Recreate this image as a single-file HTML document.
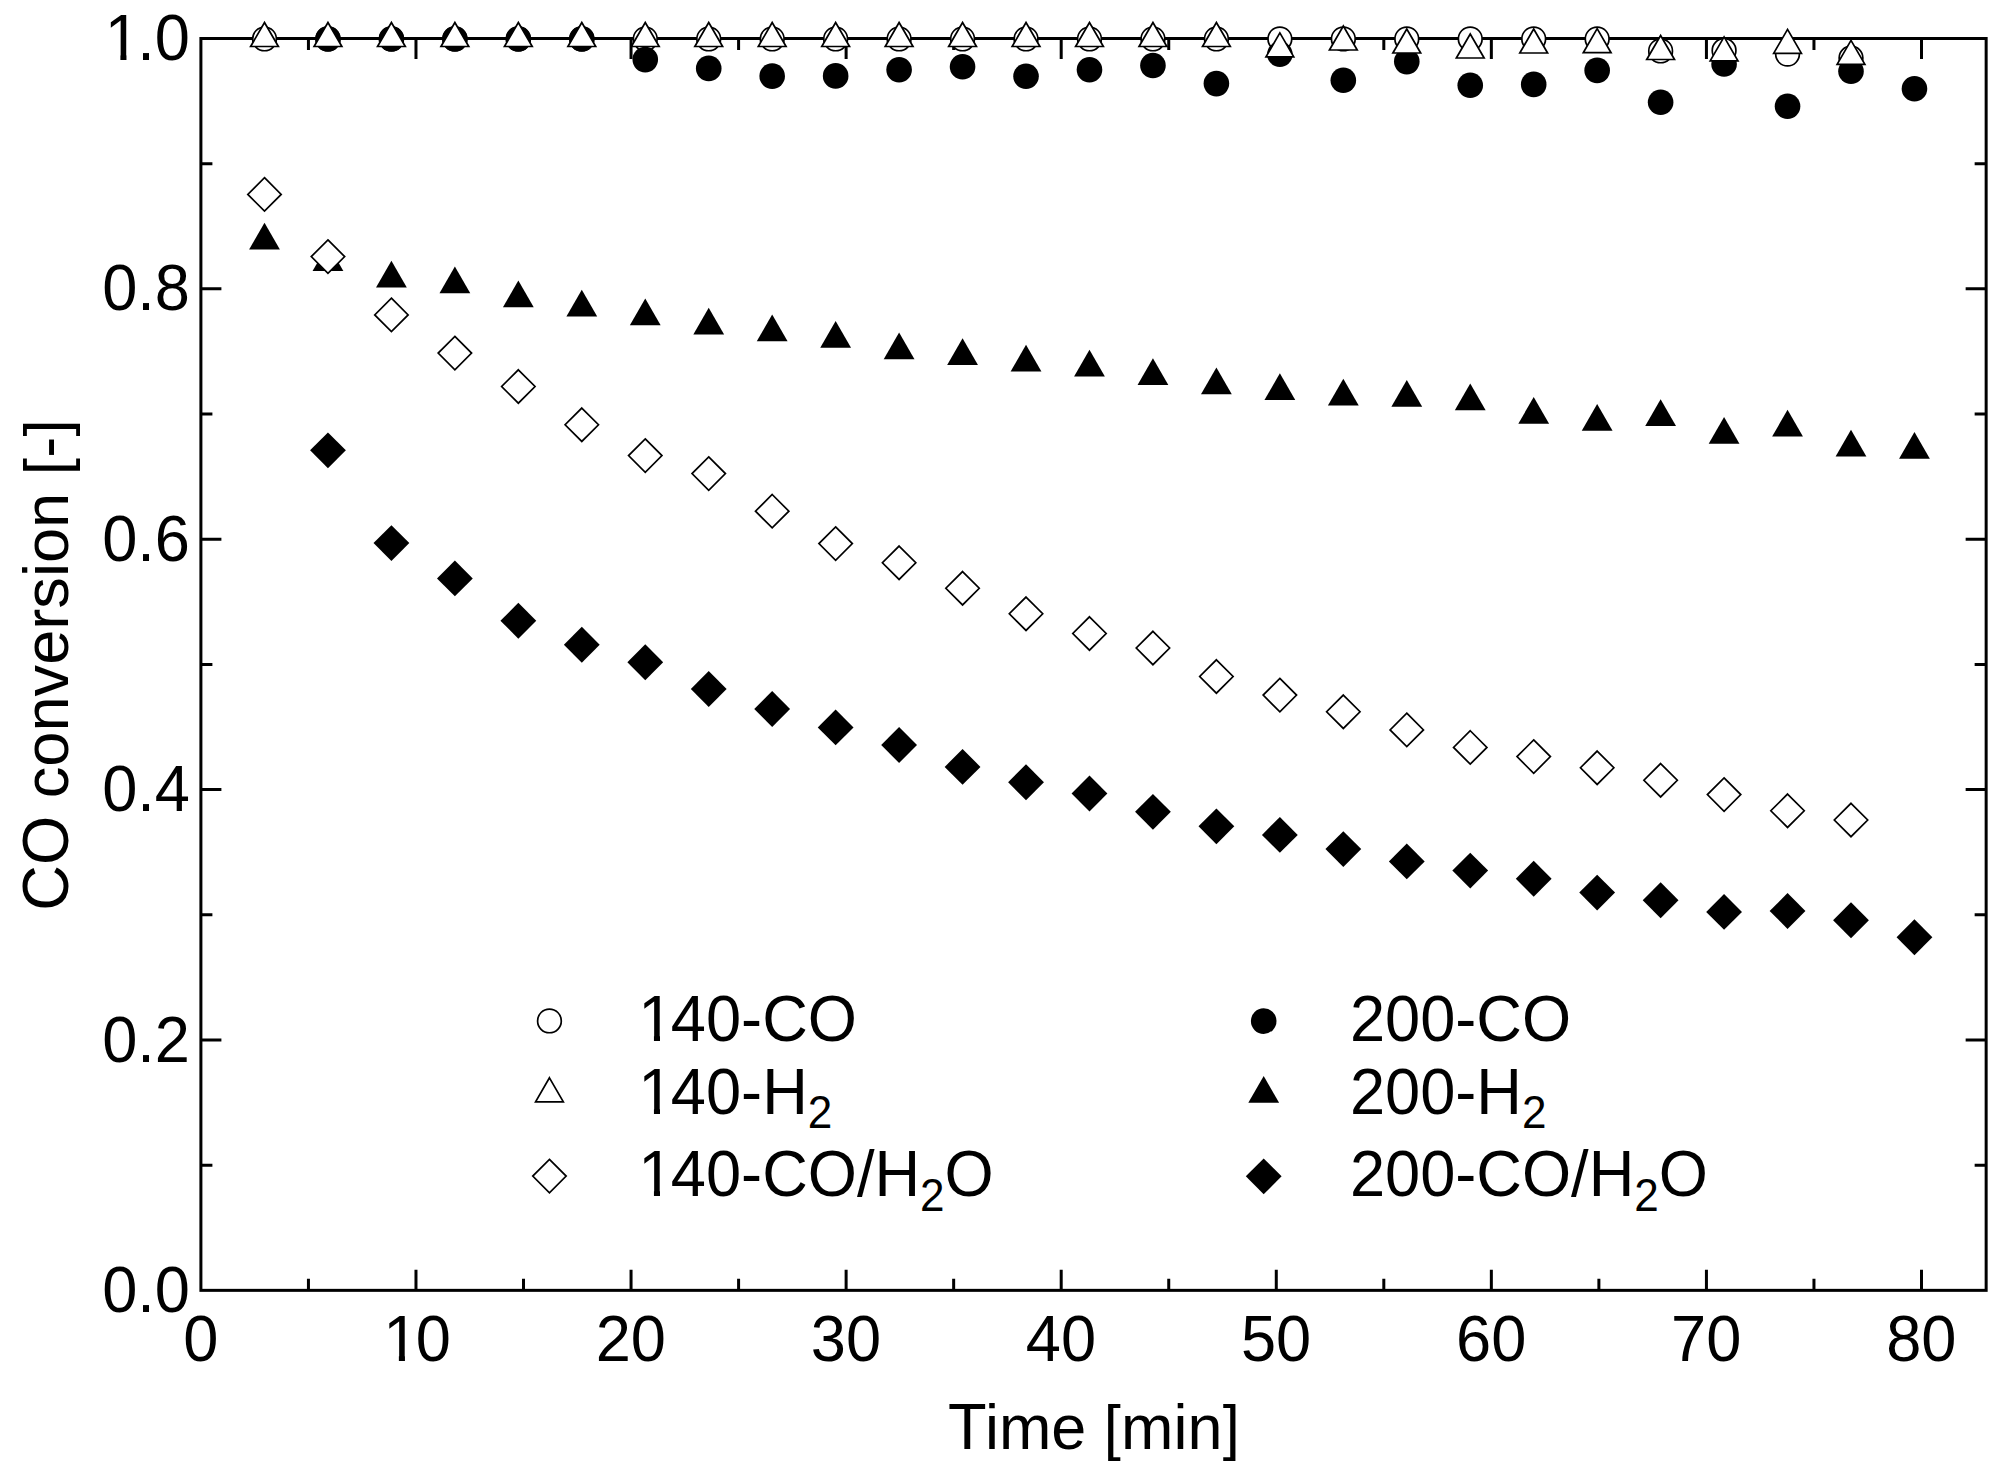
<!DOCTYPE html>
<html lang="en">
<head>
<meta charset="utf-8">
<title>CO conversion vs. time</title>
<style>
html,body{margin:0;padding:0;background:#fff;}
body{width:2000px;height:1468px;overflow:hidden;}
svg{display:block;}
</style>
</head>
<body>
<svg width="2000" height="1468" viewBox="0 0 2000 1468">
<defs>
<circle id="co" r="11.85" fill="#fff" stroke="#000" stroke-width="1.7"/>
<circle id="cf" r="12.8" fill="#000"/>
<path id="to" d="M0 -16.04L13.89 8.02L-13.89 8.02Z" fill="#fff" stroke="#000" stroke-width="1.7" stroke-miterlimit="10"/>
<path id="tf" d="M0 -17.77L15.4 8.89L-15.4 8.89Z" fill="#000"/>
<path id="do" d="M0 -16.7L16.7 0L0 16.7L-16.7 0Z" fill="#fff" stroke="#000" stroke-width="1.7" stroke-miterlimit="10"/>
<path id="df" d="M0 -17.9L17.9 0L0 17.9L-17.9 0Z" fill="#000"/>
<clipPath id="c1" clipPathUnits="userSpaceOnUse"><rect x="-3" y="-70.05" width="40.15" height="65.04"/><rect x="18.78" y="-65.05" width="6.25" height="67.05"/><rect x="37.15" y="-70.05" width="2000" height="140.10"/></clipPath>
</defs>
<rect width="2000" height="1468" fill="#fff"/>
<rect x="200.9" y="38.5" width="1785.25" height="1251.85" fill="none" stroke="#000" stroke-width="3.0"/>
<path d="M308.44 1290.35V1278.85M308.44 38.5V50M415.98 1290.35V1269.85M415.98 38.5V59M523.51 1290.35V1278.85M523.51 38.5V50M631.05 1290.35V1269.85M631.05 38.5V59M738.59 1290.35V1278.85M738.59 38.5V50M846.12 1290.35V1269.85M846.12 38.5V59M953.66 1290.35V1278.85M953.66 38.5V50M1061.2 1290.35V1269.85M1061.2 38.5V59M1168.74 1290.35V1278.85M1168.74 38.5V50M1276.28 1290.35V1269.85M1276.28 38.5V59M1383.81 1290.35V1278.85M1383.81 38.5V50M1491.35 1290.35V1269.85M1491.35 38.5V59M1598.89 1290.35V1278.85M1598.89 38.5V50M1706.43 1290.35V1269.85M1706.43 38.5V59M1813.96 1290.35V1278.85M1813.96 38.5V50M1921.5 1290.35V1269.85M1921.5 38.5V59M200.9 1165.16H212.4M1986.15 1165.16H1974.65M200.9 1039.98H221.4M1986.15 1039.98H1965.65M200.9 914.79H212.4M1986.15 914.79H1974.65M200.9 789.61H221.4M1986.15 789.61H1965.65M200.9 664.42H212.4M1986.15 664.42H1974.65M200.9 539.24H221.4M1986.15 539.24H1965.65M200.9 414.06H212.4M1986.15 414.06H1974.65M200.9 288.87H221.4M1986.15 288.87H1965.65M200.9 163.68H212.4M1986.15 163.68H1974.65" stroke="#000" stroke-width="3.0" fill="none"/>
<g font-family="'Liberation Sans', sans-serif" fill="#000">
<text transform="translate(102.15 1311.95) scale(0.9715 1)" font-size="65.05">0.0</text>
<text transform="translate(102.15 1061.58) scale(0.9715 1)" font-size="65.05">0.2</text>
<text transform="translate(102.15 811.21) scale(0.9715 1)" font-size="65.05">0.4</text>
<text transform="translate(102.15 560.84) scale(0.9715 1)" font-size="65.05">0.6</text>
<text transform="translate(102.15 310.47) scale(0.9715 1)" font-size="65.05">0.8</text>
<text transform="translate(102.15 60.1) scale(0.9715 1)" font-size="65.05" dx="2.68 -2.68" clip-path="url(#c1)">1.0</text>
<text transform="translate(183.13 1360.6) scale(0.9715 1)" font-size="65.05">0</text>
<text transform="translate(380.63 1360.6) scale(0.9715 1)" font-size="65.05" dx="2.68 -2.68" clip-path="url(#c1)">10</text>
<text transform="translate(595.7 1360.6) scale(0.9715 1)" font-size="65.05">20</text>
<text transform="translate(810.78 1360.6) scale(0.9715 1)" font-size="65.05">30</text>
<text transform="translate(1025.85 1360.6) scale(0.9715 1)" font-size="65.05">40</text>
<text transform="translate(1240.93 1360.6) scale(0.9715 1)" font-size="65.05">50</text>
<text transform="translate(1456 1360.6) scale(0.9715 1)" font-size="65.05">60</text>
<text transform="translate(1671.08 1360.6) scale(0.9715 1)" font-size="65.05">70</text>
<text transform="translate(1886.15 1360.6) scale(0.9715 1)" font-size="65.05">80</text>
<text transform="translate(947.9 1448.6) scale(1.0099 1)" font-size="62.3"><tspan font-size="65.05" textLength="38.22" lengthAdjust="spacingAndGlyphs">T</tspan><tspan dx="-1.49">ime </tspan><tspan font-size="60.8" dy="-0.75">[</tspan><tspan dy="0.75" dx="0.2">min</tspan><tspan font-size="60.8" dy="-0.75" dx="0.2">]</tspan></text>
<text transform="translate(68.2 910.7) rotate(-90) scale(1.0144 1)" font-size="62.3"><tspan font-size="65.05" textLength="93.45" lengthAdjust="spacingAndGlyphs">CO</tspan> conversion <tspan font-size="60.8" dy="-0.75">[</tspan><tspan dy="0.75" dx="0.2">-</tspan><tspan font-size="60.8" dy="-0.75" dx="0.2">]</tspan></text>
<text transform="translate(635.7 1040.7) scale(0.9715 1)" font-size="65.05" dx="2.68 -2.68" clip-path="url(#c1)">140-CO</text>
<text transform="translate(635.7 1113.8) scale(0.9715 1)" font-size="65.05" dx="2.68 -2.68" clip-path="url(#c1)">140-H<tspan font-size="45.4" dy="14.6">2</tspan></text>
<text transform="translate(635.7 1195.8) scale(0.9715 1)" font-size="65.05" dx="2.68 -2.68" clip-path="url(#c1)">140-CO/H<tspan font-size="45.4" dy="15.3">2</tspan><tspan dy="-15.3">O</tspan></text>
<text transform="translate(1349.9 1040.7) scale(0.9715 1)" font-size="65.05">200-CO</text>
<text transform="translate(1349.9 1113.8) scale(0.9715 1)" font-size="65.05">200-H<tspan font-size="45.4" dy="14.6">2</tspan></text>
<text transform="translate(1349.9 1195.8) scale(0.9715 1)" font-size="65.05">200-CO/H<tspan font-size="45.4" dy="15.3">2</tspan><tspan dy="-15.3">O</tspan></text>
</g>
<g><use href="#co" x="264.5" y="38.9"/><use href="#co" x="327.96" y="38.9"/><use href="#co" x="391.42" y="38.9"/><use href="#co" x="454.88" y="38.9"/><use href="#co" x="518.34" y="38.9"/><use href="#co" x="581.8" y="38.9"/><use href="#co" x="645.26" y="38.9"/><use href="#co" x="708.72" y="38.9"/><use href="#co" x="772.18" y="38.9"/><use href="#co" x="835.64" y="38.9"/><use href="#co" x="899.1" y="38.9"/><use href="#co" x="962.56" y="38.9"/><use href="#co" x="1026.02" y="38.9"/><use href="#co" x="1089.48" y="38.9"/><use href="#co" x="1152.94" y="38.9"/><use href="#co" x="1216.4" y="38.9"/><use href="#co" x="1279.86" y="38.9"/><use href="#co" x="1343.32" y="38.9"/><use href="#co" x="1406.78" y="38.9"/><use href="#co" x="1470.24" y="38.9"/><use href="#co" x="1533.7" y="38.9"/><use href="#co" x="1597.16" y="38.9"/><use href="#co" x="1660.62" y="50.9"/><use href="#co" x="1724.08" y="50.5"/><use href="#co" x="1787.54" y="54.1"/><use href="#co" x="1851" y="58"/></g>
<g><use href="#cf" x="327.96" y="38.9"/><use href="#cf" x="391.42" y="38.9"/><use href="#cf" x="454.88" y="38.9"/><use href="#cf" x="518.34" y="38.9"/><use href="#cf" x="581.8" y="38.9"/><use href="#cf" x="645.26" y="59.6"/><use href="#cf" x="708.72" y="68.4"/><use href="#cf" x="772.18" y="76.1"/><use href="#cf" x="835.64" y="75.9"/><use href="#cf" x="899.1" y="69.8"/><use href="#cf" x="962.56" y="66.7"/><use href="#cf" x="1026.02" y="76.2"/><use href="#cf" x="1089.48" y="69.8"/><use href="#cf" x="1152.94" y="65.5"/><use href="#cf" x="1216.4" y="83.6"/><use href="#cf" x="1279.86" y="54.3"/><use href="#cf" x="1343.32" y="80.2"/><use href="#cf" x="1406.78" y="61.6"/><use href="#cf" x="1470.24" y="85.3"/><use href="#cf" x="1533.7" y="84.4"/><use href="#cf" x="1597.16" y="70.4"/><use href="#cf" x="1660.62" y="102.2"/><use href="#cf" x="1724.08" y="63.95"/><use href="#cf" x="1787.54" y="106.25"/><use href="#cf" x="1851" y="71.25"/><use href="#cf" x="1914.46" y="88.75"/></g>
<g><use href="#to" x="264.5" y="38.5"/><use href="#to" x="327.96" y="38.5"/><use href="#to" x="391.42" y="38.5"/><use href="#to" x="454.88" y="38.5"/><use href="#to" x="518.34" y="38.5"/><use href="#to" x="581.8" y="38.5"/><use href="#to" x="645.26" y="38.5"/><use href="#to" x="708.72" y="38.5"/><use href="#to" x="772.18" y="38.5"/><use href="#to" x="835.64" y="38.5"/><use href="#to" x="899.1" y="38.5"/><use href="#to" x="962.56" y="38.5"/><use href="#to" x="1026.02" y="38.5"/><use href="#to" x="1089.48" y="38.5"/><use href="#to" x="1152.94" y="38.5"/><use href="#to" x="1216.4" y="38.5"/><use href="#to" x="1279.86" y="48.9"/><use href="#to" x="1343.32" y="42"/><use href="#to" x="1406.78" y="45"/><use href="#to" x="1470.24" y="50"/><use href="#to" x="1533.7" y="45"/><use href="#to" x="1597.16" y="44.7"/><use href="#to" x="1660.62" y="51.5"/><use href="#to" x="1724.08" y="52.9"/><use href="#to" x="1787.54" y="45.4"/><use href="#to" x="1851" y="56.4"/></g>
<g><use href="#tf" x="264.5" y="240.6"/><use href="#tf" x="327.96" y="262.1"/><use href="#tf" x="391.42" y="278.6"/><use href="#tf" x="454.88" y="284.35"/><use href="#tf" x="518.34" y="298.35"/><use href="#tf" x="581.8" y="307.6"/><use href="#tf" x="645.26" y="316.35"/><use href="#tf" x="708.72" y="325.6"/><use href="#tf" x="772.18" y="332.35"/><use href="#tf" x="835.64" y="338.85"/><use href="#tf" x="899.1" y="350.35"/><use href="#tf" x="962.56" y="356.1"/><use href="#tf" x="1026.02" y="362.6"/><use href="#tf" x="1089.48" y="367.6"/><use href="#tf" x="1152.94" y="376.1"/><use href="#tf" x="1216.4" y="385.35"/><use href="#tf" x="1279.86" y="391.1"/><use href="#tf" x="1343.32" y="396.6"/><use href="#tf" x="1406.78" y="397.85"/><use href="#tf" x="1470.24" y="401.35"/><use href="#tf" x="1533.7" y="414.85"/><use href="#tf" x="1597.16" y="421.85"/><use href="#tf" x="1660.62" y="417"/><use href="#tf" x="1724.08" y="434.85"/><use href="#tf" x="1787.54" y="427.6"/><use href="#tf" x="1851" y="447.6"/><use href="#tf" x="1914.46" y="449.8"/></g>
<g><use href="#do" x="264.5" y="194.4"/><use href="#do" x="327.96" y="256.6"/><use href="#do" x="391.42" y="314.9"/><use href="#do" x="454.88" y="353.1"/><use href="#do" x="518.34" y="386.5"/><use href="#do" x="581.8" y="424.75"/><use href="#do" x="645.26" y="455.6"/><use href="#do" x="708.72" y="473.6"/><use href="#do" x="772.18" y="511.2"/><use href="#do" x="835.64" y="543.6"/><use href="#do" x="899.1" y="562.75"/><use href="#do" x="962.56" y="588.25"/><use href="#do" x="1026.02" y="613.75"/><use href="#do" x="1089.48" y="633.5"/><use href="#do" x="1152.94" y="648"/><use href="#do" x="1216.4" y="676.5"/><use href="#do" x="1279.86" y="695.1"/><use href="#do" x="1343.32" y="711.75"/><use href="#do" x="1406.78" y="729.9"/><use href="#do" x="1470.24" y="747.45"/><use href="#do" x="1533.7" y="756.6"/><use href="#do" x="1597.16" y="767.75"/><use href="#do" x="1660.62" y="780.25"/><use href="#do" x="1724.08" y="794.6"/><use href="#do" x="1787.54" y="810.75"/><use href="#do" x="1851" y="820"/></g>
<g><use href="#df" x="327.96" y="450.3"/><use href="#df" x="391.42" y="543.1"/><use href="#df" x="454.88" y="578.4"/><use href="#df" x="518.34" y="620.75"/><use href="#df" x="581.8" y="644.75"/><use href="#df" x="645.26" y="662.25"/><use href="#df" x="708.72" y="689"/><use href="#df" x="772.18" y="709"/><use href="#df" x="835.64" y="727.4"/><use href="#df" x="899.1" y="745"/><use href="#df" x="962.56" y="766.9"/><use href="#df" x="1026.02" y="782.25"/><use href="#df" x="1089.48" y="793.5"/><use href="#df" x="1152.94" y="811.8"/><use href="#df" x="1216.4" y="826.3"/><use href="#df" x="1279.86" y="834.9"/><use href="#df" x="1343.32" y="849.1"/><use href="#df" x="1406.78" y="861.4"/><use href="#df" x="1470.24" y="870.55"/><use href="#df" x="1533.7" y="878.75"/><use href="#df" x="1597.16" y="892.6"/><use href="#df" x="1660.62" y="900.25"/><use href="#df" x="1724.08" y="911.9"/><use href="#df" x="1787.54" y="911"/><use href="#df" x="1851" y="920.25"/><use href="#df" x="1914.46" y="937.25"/></g>
<use href="#co" x="549.45" y="1020.9"/><use href="#to" x="549.45" y="1093.85"/><use href="#do" x="549.45" y="1176.05"/>
<use href="#cf" x="1263.7" y="1021.1"/><use href="#tf" x="1263.7" y="1093.8"/><use href="#df" x="1263.7" y="1176.3"/>
</svg>
</body>
</html>
